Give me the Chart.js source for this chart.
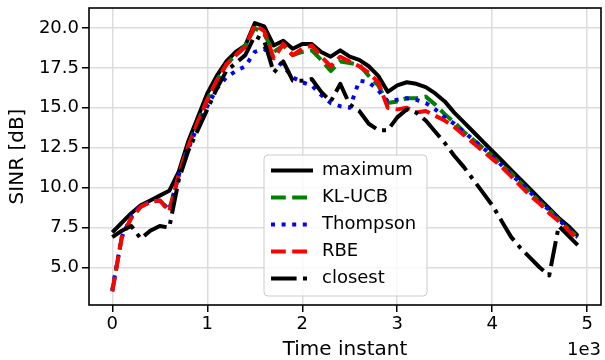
<!DOCTYPE html>
<html>
<head>
<meta charset="utf-8">
<script src="https://cdn.jsdelivr.net/npm/chart.js@4.4.0/dist/chart.umd.min.js"></script>
<style>
	html, body { margin: 0; padding: 0; background: #fff; }
</style>
</head>
<body>
<canvas id="grafico" width="605" height="360"></canvas>
<script>
// time instants (x values)
const tempos = [0, 100, 200, 300, 400, 500, 600, 700, 800, 900,
	1000, 1100, 1200, 1300, 1400, 1500, 1600, 1700, 1800, 1900,
	2000, 2100, 2200, 2300, 2400, 2500, 2600, 2700, 2800, 2900,
	3000, 3100, 3200, 3300, 3400, 3500, 3600, 3700, 3800, 3900,
	4000, 4100, 4200, 4300, 4400, 4500, 4600, 4700, 4800, 4900];

const maximum = [7.2, 7.8, 8.4, 8.9, 9.2, 9.5, 9.8, 11.0, 12.9, 14.4,
	15.9, 17.0, 17.9, 18.5, 18.9, 20.3, 20.1, 18.9, 19.2, 18.7,
	19.0, 19.0, 18.5, 18.2, 18.6, 18.2, 18.0, 17.6, 17.0, 16.0,
	16.4, 16.6, 16.5, 16.3, 15.9, 15.4, 14.7, 14.1, 13.5, 12.9,
	12.3, 11.7, 11.1, 10.5, 9.9, 9.3, 8.7, 8.1, 7.6, 7.0];

const klucb = [3.5, 6.9, 8.1, 8.8, 9.1, 9.2, 8.6, 10.8, 12.6, 14.1,
	15.5, 16.7, 17.7, 18.3, 18.9, 20.0, 19.6, 18.5, 18.9, 18.3,
	18.5, 18.6, 18.0, 17.3, 17.9, 17.8, 17.7, 17.0, 16.4, 15.3,
	15.4, 15.6, 15.6, 15.7, 15.2, 14.6, 14.1, 13.5, 13.0, 12.5,
	12.0, 11.4, 10.9, 10.3, 9.7, 9.1, 8.6, 8.0, 7.4, 6.9];

const thompson = [3.6, 6.9, 8.2, 8.9, 9.1, 9.2, 8.6, 10.8, 12.4, 13.9,
	15.1, 16.2, 16.9, 17.3, 17.6, 18.5, 18.7, 18.1, 17.6, 16.9,
	16.6, 16.4, 15.8, 15.3, 15.1, 15.0, 16.7, 16.6, 16.1, 15.4,
	15.5, 15.6, 15.5, 15.3, 14.9, 14.4, 14.0, 13.5, 13.0, 12.5,
	12.0, 11.4, 10.8, 10.3, 9.7, 9.1, 8.6, 8.0, 7.4, 6.9];

const rbe = [3.5, 6.9, 8.1, 8.8, 9.1, 9.2, 8.5, 10.8, 12.6, 14.1,
	15.5, 16.7, 17.7, 18.3, 18.8, 20.2, 19.8, 18.1, 19.0, 18.3,
	18.7, 18.9, 18.2, 17.6, 18.2, 17.9, 17.6, 17.2, 16.6, 15.0,
	14.9, 15.0, 14.7, 14.8, 14.5, 14.2, 13.8, 13.3, 12.8, 12.3,
	11.8, 11.3, 10.7, 10.1, 9.5, 9.0, 8.4, 7.9, 7.3, 6.8];

const closest = [6.9, 7.3, 7.6, 6.8, 7.3, 7.6, 7.5, 10.5, 12.3, 13.6,
	14.9, 16.2, 17.3, 17.8, 18.3, 19.5, 19.2, 17.2, 17.9, 16.7,
	16.7, 16.8, 16.0, 15.4, 16.5, 15.2, 14.8, 14.0, 13.6, 13.6,
	14.4, 14.9, 14.7, 14.2, 13.5, 12.8, 12.0, 11.3, 10.5, 9.7,
	8.9, 7.9, 6.9, 6.2, 5.6, 5.0, 4.5, 7.6, 7.0, 6.4];

const xTicks = [0, 1000, 2000, 3000, 4000, 5000];
const yTicks = [5.0, 7.5, 10.0, 12.5, 15.0, 17.5, 20.0];

const FONTE = "'DejaVu Sans', sans-serif";

function serie(valores) {
	return valores.map((v, i) => ({ x: tempos[i], y: v }));
}

// label, values, colour, dash, drawing order (matplotlib plot order, last on top)
const series = [
	{ label: 'maximum', data: maximum, cor: '#000000', dash: [], ordem: 5 },
	{ label: 'KL-UCB', data: klucb, cor: '#008000', dash: [14.8, 6.4], ordem: 4 },
	{ label: 'Thompson', data: thompson, cor: '#0000ff', dash: [4, 6.6], ordem: 3 },
	{ label: 'RBE', data: rbe, cor: '#ff0000', dash: [14.8, 6.4], ordem: 2 },
	{ label: 'closest', data: closest, cor: '#000000', dash: [25.6, 6.4, 4, 6.4], ordem: 1 }
];

const moldura = {
	id: 'moldura',
	afterDatasetsDraw(chart) {
		const ctx = chart.ctx;
		const a = chart.chartArea;
		ctx.save();
		ctx.strokeStyle = '#000';
		ctx.lineWidth = 1.6;
		ctx.strokeRect(a.left, a.top, a.right - a.left, a.bottom - a.top);

		// legend
		const lx = 264, ly = 155, lw = 163, lh = 141, r = 4;
		ctx.beginPath();
		ctx.moveTo(lx + r, ly);
		ctx.arcTo(lx + lw, ly, lx + lw, ly + lh, r);
		ctx.arcTo(lx + lw, ly + lh, lx, ly + lh, r);
		ctx.arcTo(lx, ly + lh, lx, ly, r);
		ctx.arcTo(lx, ly, lx + lw, ly, r);
		ctx.closePath();
		ctx.fillStyle = 'rgba(255,255,255,0.8)';
		ctx.fill();
		ctx.strokeStyle = '#cccccc';
		ctx.lineWidth = 1;
		ctx.stroke();

		ctx.font = '18px ' + FONTE;
		ctx.textBaseline = 'middle';
		ctx.textAlign = 'left';
		series.forEach((s, i) => {
			const y = 170.5 + i * 27;
			ctx.beginPath();
			ctx.setLineDash(s.dash);
			ctx.lineCap = 'butt';
			ctx.strokeStyle = s.cor;
			ctx.lineWidth = 4;
			ctx.moveTo(271, y);
			ctx.lineTo(313, y);
			ctx.stroke();
			ctx.setLineDash([]);
			ctx.fillStyle = '#000';
			ctx.fillText(s.label, 322, y);
		});

		// offset text of the x axis
		ctx.textAlign = 'right';
		ctx.fillText('1e3', 601, 350);
		ctx.restore();
	}
};

new Chart(document.getElementById('grafico'), {
	type: 'line',
	data: {
		datasets: series.map((s) => ({
			label: s.label,
			data: serie(s.data),
			borderColor: s.cor,
			backgroundColor: s.cor,
			borderWidth: 4,
			borderDash: s.dash,
			borderJoinStyle: 'round',
			pointRadius: 0,
			tension: 0,
			fill: false,
			order: s.ordem
		}))
	},
	options: {
		responsive: false,
		devicePixelRatio: 1,
		animation: false,
		layout: { padding: { left: 0, right: 4, top: 8, bottom: 0 } },
		plugins: {
			legend: { display: false },
			tooltip: { enabled: false }
		},
		scales: {
			x: {
				type: 'linear',
				min: -245,
				max: 5145,
				afterBuildTicks: (eixo) => { eixo.ticks = xTicks.map((v) => ({ value: v })); },
				afterFit: (eixo) => {
					eixo.height = 55;
					eixo.paddingLeft = 0;
					eixo.paddingRight = 0;
				},
				ticks: {
					font: { family: FONTE, size: 18 },
					color: '#000',
					padding: 2,
					maxRotation: 0,
					callback: (v) => String(v / 1000)
				},
				grid: {
					color: '#dcdcdc',
					lineWidth: 1.5,
					tickColor: '#000',
					tickLength: 7,
					tickWidth: 1.5
				},
				border: { display: false },
				title: {
					display: true,
					text: 'Time instant',
					color: '#000',
					font: { family: FONTE, size: 20, lineHeight: 1 },
					padding: { top: 0, bottom: 0 }
				}
			},
			y: {
				min: 2.65,
				max: 21.25,
				afterBuildTicks: (eixo) => { eixo.ticks = yTicks.map((v) => ({ value: v })); },
				afterFit: (eixo) => {
					eixo.width = 89;
					eixo.paddingTop = 0;
					eixo.paddingBottom = 0;
				},
				ticks: {
					font: { family: FONTE, size: 18 },
					color: '#000',
					padding: 3,
					callback: (v) => v.toFixed(1)
				},
				grid: {
					color: '#dcdcdc',
					lineWidth: 1.5,
					tickColor: '#000',
					tickLength: 7,
					tickWidth: 1.5
				},
				border: { display: false },
				title: {
					display: true,
					text: 'SINR [dB]',
					color: '#000',
					font: { family: FONTE, size: 20, lineHeight: 1 },
					padding: { top: 8, bottom: 0 }
				}
			}
		}
	},
	plugins: [moldura]
});
</script>
</body>
</html>
